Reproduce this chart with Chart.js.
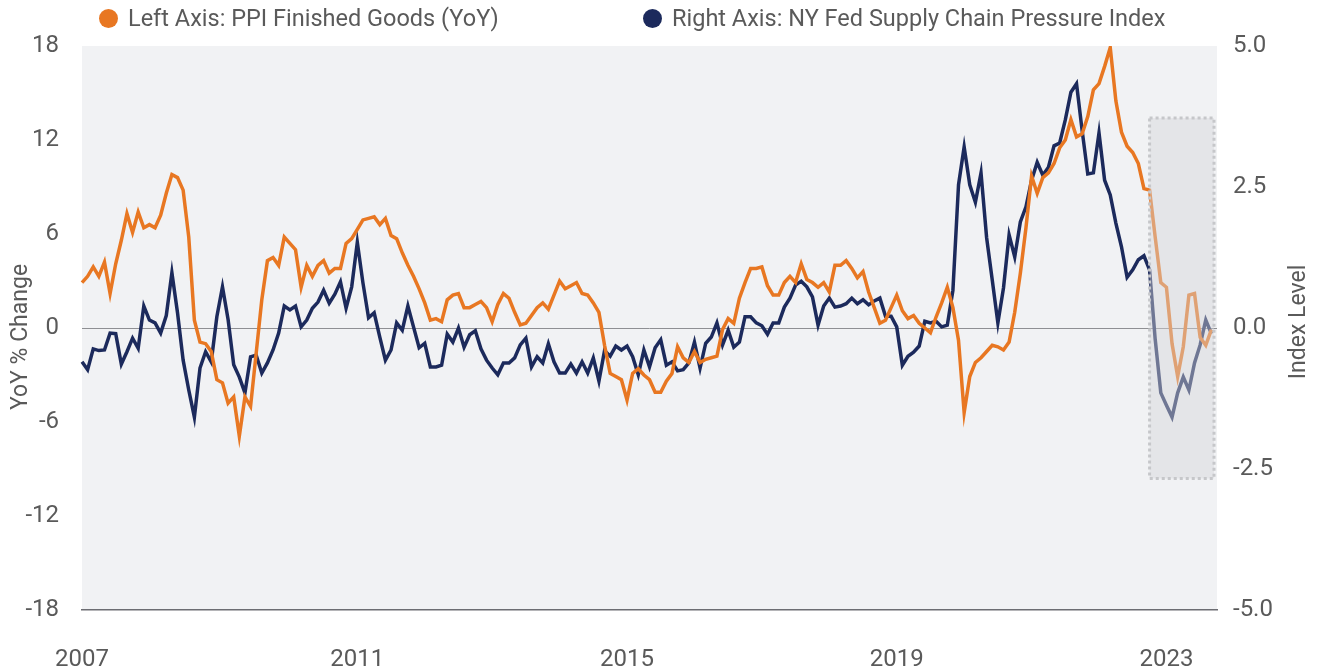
<!DOCTYPE html>
<html>
<head>
<meta charset="utf-8">
<script src="https://cdn.jsdelivr.net/npm/chart.js@4.4.0/dist/chart.umd.min.js"></script>
<style>
  html, body { margin: 0; padding: 0; background: #fff; }
  #wrap { position: relative; width: 1318px; height: 672px; }
  #legend { position: absolute; top: 0; left: 0; width: 1318px; height: 36px;
            font-family: Roboto, sans-serif; font-size: 23.5px; color: #5a5a5a; }
  .item { position: absolute; top: 0; height: 36px; display: flex; align-items: center; white-space: nowrap; }
  .dot { width: 19px; height: 19px; border-radius: 50%; margin-right: 10px; }
</style>
</head>
<body>
<div id="wrap">
  <canvas id="chart" width="1318" height="672"></canvas>
  <div id="legend"></div>
</div>
<script>
// monthly, Mar 2007 .. Dec 2023 (one spare slot at the end of the axis)
const firstYear = 2007, firstMonth = 3, monthCount = 203;

const xTickLabels = ['2007', '2011', '2015', '2019', '2023'];
const xTickMonths = ['2007-03', '2011-04', '2015-04', '2019-04', '2023-04'];

const leftTicks = [-18, -12, -6, 0, 6, 12, 18];
const rightTicks = [-5, -2.5, 0, 2.5, 5];

// PPI Finished Goods, YoY %
const ppiYoY = [
  2.9, 3.3, 3.9, 3.3, 4.2, 2.2, 4.1, 5.6, 7.3, 6.1,                       // 2007
  7.4, 6.4, 6.6, 6.4, 7.2, 8.6, 9.8, 9.6, 8.8, 5.8, 0.5, -0.9,            // 2008
  -1.0, -1.5, -3.3, -3.5, -4.8, -4.4, -6.9, -4.4, -5.0, -1.6, 1.8, 4.3,   // 2009
  4.5, 4.0, 5.8, 5.4, 5.0, 2.6, 4.0, 3.3, 4.0, 4.3, 3.5, 3.8,             // 2010
  3.8, 5.4, 5.7, 6.3, 6.9, 7.0, 7.1, 6.6, 7.0, 5.9, 5.7, 4.8,             // 2011
  4.0, 3.3, 2.5, 1.6, 0.5, 0.6, 0.4, 1.8, 2.1, 2.2, 1.3, 1.3,             // 2012
  1.5, 1.7, 1.3, 0.4, 1.5, 2.2, 1.9, 1.0, 0.2, 0.3, 0.8, 1.3,             // 2013
  1.6, 1.2, 2.1, 3.0, 2.5, 2.7, 2.9, 2.2, 2.1, 1.6, 1.0, -1.1,            // 2014
  -2.9, -3.1, -3.3, -4.6, -2.9, -2.6, -3.0, -3.3, -4.1, -4.1, -3.4, -2.9, // 2015
  -1.2, -1.9, -2.2, -1.5, -2.2, -2.0, -1.9, -1.8, -0.1, 0.6, 0.3, 1.9,    // 2016
  2.9, 3.8, 3.8, 3.9, 2.7, 2.1, 2.1, 2.9, 3.3, 2.9, 4.1, 3.1,             // 2017
  2.9, 2.6, 2.9, 2.3, 4.0, 4.0, 4.3, 3.8, 3.2, 3.6, 2.3, 1.3,             // 2018
  0.3, 0.5, 1.3, 2.1, 1.1, 0.6, 0.8, 0.3, 0.0, -0.3, 0.7, 1.6,            // 2019
  2.6, 1.3, -0.8, -5.4, -3.1, -2.2, -1.9, -1.5, -1.1, -1.2, -1.4, -0.9,   // 2020
  1.0, 3.5, 6.4, 9.7, 8.6, 9.6, 9.9, 10.5, 11.5, 12.0, 13.3, 12.2,        // 2021
  12.4, 13.5, 15.2, 15.6, 16.7, 17.9, 14.5, 12.5, 11.6, 11.2, 10.5, 8.9,  // 2022
  8.8, 5.8, 2.9, 2.6, -1.0, -3.1, -1.2, 2.1, 2.2, -0.6, -1.1, -0.1        // 2023
];

// NY Fed Global Supply Chain Pressure Index
const gscpi = [
  -0.60, -0.74, -0.37, -0.40, -0.39, -0.09, -0.10, -0.64, -0.42, -0.18,              // 2007
  -0.36, 0.39, 0.14, 0.09, -0.09, 0.22, 0.98, 0.27, -0.57, -1.10, -1.58, -0.71,      // 2008
  -0.42, -0.60, 0.20, 0.73, 0.15, -0.65, -0.87, -1.15, -0.51, -0.48, -0.80, -0.62,   // 2009
  -0.39, -0.09, 0.39, 0.32, 0.39, 0.02, 0.14, 0.35, 0.46, 0.67, 0.44, 0.60,          // 2010
  0.82, 0.35, 0.73, 1.52, 0.80, 0.18, 0.27, -0.16, -0.57, -0.39, 0.09, -0.04,        // 2011
  0.39, 0.02, -0.35, -0.27, -0.69, -0.69, -0.66, -0.11, -0.25, 0.00, -0.34, -0.12,   // 2012
  -0.05, -0.37, -0.57, -0.71, -0.83, -0.62, -0.62, -0.53, -0.30, -0.18, -0.69, -0.51, // 2013
  -0.62, -0.28, -0.60, -0.80, -0.80, -0.64, -0.80, -0.60, -0.80, -0.53, -0.94, -0.40, // 2014
  -0.50, -0.32, -0.39, -0.32, -0.51, -0.83, -0.39, -0.69, -0.35, -0.21, -0.66, -0.60, // 2015
  -0.76, -0.74, -0.62, -0.25, -0.71, -0.27, -0.16, 0.09, -0.30, -0.04, -0.34, -0.25,  // 2016
  0.20, 0.20, 0.09, 0.04, -0.11, 0.09, 0.09, 0.37, 0.53, 0.76, 0.83, 0.73,           // 2017
  0.55, 0.05, 0.39, 0.53, 0.37, 0.39, 0.43, 0.53, 0.43, 0.50, 0.41, 0.48,            // 2018
  0.53, 0.21, 0.21, 0.02, -0.66, -0.50, -0.43, -0.32, 0.12, 0.09, 0.12, 0.02,        // 2019
  0.05, 0.67, 2.54, 3.21, 2.54, 2.23, 2.75, 1.60, 0.85, 0.09, 0.71, 1.65,            // 2020
  1.26, 1.88, 2.15, 2.62, 2.94, 2.71, 2.85, 3.23, 3.28, 3.69, 4.18, 4.33,            // 2021
  3.50, 2.73, 2.75, 3.46, 2.62, 2.36, 1.86, 1.44, 0.90, 1.03, 1.21, 1.28,            // 2022
  1.03, -0.20, -1.15, -1.37, -1.58, -1.15, -0.87, -1.10, -0.62, -0.30, 0.14, -0.10   // 2023
];

// shaded 2023 window, in left-axis units
const highlightFrom = '2023-01';
const highlightTop = 13.4;
const highlightBottom = -9.6;

const leftTitle = 'YoY % Change';
const rightTitle = 'Index Level';

const months = [];
for (let i = 0; i < monthCount; i++) {
  const m = firstMonth - 1 + i;
  const y = firstYear + Math.floor(m / 12);
  months.push(y + '-' + String(m % 12 + 1).padStart(2, '0'));
}

const series = [
  { label: 'Left Axis: PPI Finished Goods (YoY)', data: ppiYoY, axis: 'yL', color: '#e87722' },
  { label: 'Right Axis: NY Fed Supply Chain Pressure Index', data: gscpi, axis: 'yR', color: '#1c2a5c' }
];

// legend as plain html on top of the canvas
const legendEl = document.getElementById('legend');
const legendLeft = [99, 643];
series.forEach((s, i) => {
  const item = document.createElement('div');
  item.className = 'item';
  item.style.left = legendLeft[i] + 'px';
  const dot = document.createElement('span');
  dot.className = 'dot';
  dot.style.background = s.color;
  const txt = document.createElement('span');
  txt.textContent = s.label;
  item.appendChild(dot);
  item.appendChild(txt);
  legendEl.appendChild(item);
});

const plotBackground = {
  id: 'plotBackground',
  beforeDraw(chart) {
    const { ctx, chartArea: a } = chart;
    ctx.save();
    ctx.fillStyle = '#f1f2f4';
    ctx.fillRect(a.left, a.top, a.right - a.left, a.bottom - a.top);
    ctx.restore();
  }
};

const highlightBox = {
  id: 'highlightBox',
  afterDatasetsDraw(chart) {
    const { ctx, chartArea: a, scales } = chart;
    const left = scales.x.getPixelForValue(months.indexOf(highlightFrom));
    const right = a.right - 3;
    const top = scales.yL.getPixelForValue(highlightTop);
    const bottom = scales.yL.getPixelForValue(highlightBottom);
    ctx.save();
    ctx.fillStyle = 'rgba(212, 213, 217, 0.45)';
    ctx.fillRect(left, top, right - left, bottom - top);
    ctx.strokeStyle = '#c6c7ca';
    ctx.lineWidth = 3;
    ctx.setLineDash([3, 3]);
    ctx.strokeRect(left, top, right - left, bottom - top);
    ctx.restore();
  }
};

// both axis titles read bottom-to-top
const axisTitles = {
  id: 'axisTitles',
  afterDraw(chart) {
    const { ctx, chartArea: a, scales } = chart;
    const mid = (a.top + a.bottom) / 2;
    const draw = (text, x, y) => {
      ctx.save();
      ctx.translate(x, y);
      ctx.rotate(-Math.PI / 2);
      ctx.font = '23px Roboto, sans-serif';
      ctx.fillStyle = '#5a5a5a';
      ctx.textAlign = 'center';
      ctx.textBaseline = 'middle';
      ctx.fillText(text, 0, 0);
      ctx.restore();
    };
    draw(leftTitle, scales.yL.left + 21, mid + 9);
    draw(rightTitle, scales.yR.right - 19, mid - 6);
  }
};

Chart.defaults.font.family = 'Roboto, sans-serif';
Chart.defaults.font.size = 24;
Chart.defaults.color = '#5a5a5a';

new Chart(document.getElementById('chart'), {
  type: 'line',
  data: {
    labels: months,
    datasets: series.map((s, i) => ({
      label: s.label,
      data: s.data,
      yAxisID: s.axis,
      borderColor: s.color,
      backgroundColor: s.color,
      borderWidth: 3.5,
      pointRadius: 0,
      tension: 0,
      order: i
    }))
  },
  options: {
    responsive: false,
    animation: false,
    devicePixelRatio: 1,
    layout: { padding: { top: 46, left: 0, right: 0, bottom: 0 } },
    plugins: { legend: { display: false }, tooltip: { enabled: false } },
    scales: {
      x: {
        offset: false,
        grid: { display: false, drawTicks: false },
        border: { display: true, color: '#6c6d72', width: 1.5 },
        ticks: {
          autoSkip: false, maxRotation: 0, minRotation: 0, padding: 36,
          callback: (v, i) => {
            const k = xTickMonths.indexOf(months[i]);
            return k >= 0 ? xTickLabels[k] : '';
          }
        },
        afterFit: s => { s.height = 62; }
      },
      yL: {
        position: 'left',
        min: leftTicks[0], max: leftTicks[leftTicks.length - 1],
        afterBuildTicks: s => { s.ticks = leftTicks.map(v => ({ value: v })); },
        ticks: { padding: 23 },
        grid: {
          drawTicks: false, lineWidth: 1,
          color: c => (c.tick && c.tick.value === 0 ? '#8e8f93' : 'rgba(0,0,0,0)')
        },
        border: { display: false },
        title: { display: false },
        afterFit: s => { s.width = 82; }
      },
      yR: {
        position: 'right',
        min: rightTicks[0], max: rightTicks[rightTicks.length - 1],
        afterBuildTicks: s => { s.ticks = rightTicks.map(v => ({ value: v })); },
        ticks: { padding: 16, callback: v => Number(v).toFixed(1) },
        grid: { display: false, drawTicks: false },
        border: { display: false },
        title: { display: false },
        afterFit: s => { s.width = 101; }
      }
    }
  },
  plugins: [plotBackground, highlightBox, axisTitles]
});
</script>
</body>
</html>
